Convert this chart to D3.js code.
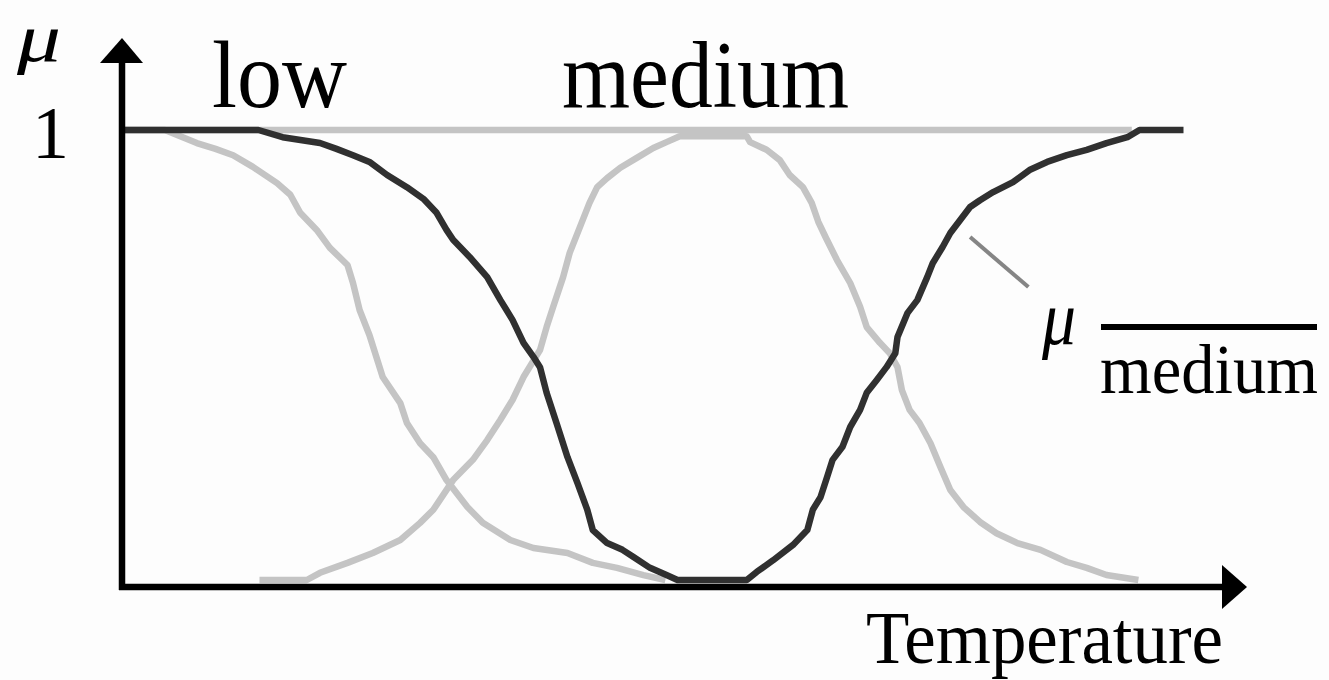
<!DOCTYPE html>
<html>
<head>
<meta charset="utf-8">
<script src="https://cdn.jsdelivr.net/npm/d3@7"></script>
<style>
  html, body { margin: 0; padding: 0; background: #fdfdfd; }
  svg { display: block; }
  text { font-family: "Liberation Serif", "Times New Roman", serif; fill: #000; }
</style>
</head>
<body>
<svg id="chart"></svg>
<script>
// membership values: [temperature, mu]
const lowPoints = [
  [0, 1], [3.9, 1], [6.8, 0.971], [8.5, 0.958], [10.1, 0.944], [11.9, 0.918],
  [14.1, 0.882], [15.3, 0.856], [16.2, 0.816], [17.7, 0.778], [18.9, 0.738],
  [20.5, 0.70], [21.0, 0.66], [21.6, 0.60], [22.5, 0.544], [23.7, 0.451],
  [25.3, 0.393], [25.9, 0.349], [27.1, 0.304], [28.3, 0.273], [29.5, 0.222],
  [31.4, 0.162], [32.8, 0.127], [35.3, 0.089], [37.4, 0.071], [40.5, 0.06],
  [42.8, 0.038], [45.0, 0.027], [47.4, 0.011], [49.4, 0]
];

const mediumPoints = [
  [12.5, 0], [16.8, 0], [18.0, 0.016], [20.5, 0.038], [22.8, 0.06], [25.3, 0.089],
  [27.1, 0.127], [28.3, 0.156], [30.1, 0.222], [31.9, 0.267], [33.2, 0.311],
  [34.4, 0.356], [35.5, 0.40], [36.5, 0.451], [38.0, 0.511], [38.6, 0.562],
  [39.2, 0.607], [40.1, 0.673], [40.7, 0.727], [42.5, 0.838], [43.2, 0.873],
  [44.1, 0.893], [45.3, 0.916], [46.8, 0.938], [48.3, 0.96], [49.5, 0.973],
  [50.7, 0.986], [56.8, 0.986], [57.1, 0.973], [58.6, 0.956], [59.8, 0.933],
  [60.7, 0.90], [61.9, 0.873], [62.7, 0.838], [63.3, 0.796], [64.0, 0.76],
  [65.0, 0.711], [66.2, 0.66], [67.1, 0.607], [67.7, 0.562], [68.9, 0.527],
  [69.8, 0.504], [70.5, 0.473], [70.9, 0.422], [71.6, 0.378], [72.5, 0.349],
  [73.5, 0.304], [74.4, 0.251], [75.3, 0.20], [76.5, 0.162], [78.0, 0.129],
  [79.5, 0.104], [81.4, 0.082], [83.5, 0.067], [85.9, 0.04], [87.7, 0.027],
  [89.5, 0.011], [92.4, 0]
];

// not medium
const notMediumPoints = [
  [0, 1], [12.4, 1], [14.6, 0.984], [18.0, 0.971], [19.5, 0.958], [21.0, 0.944],
  [22.5, 0.929], [24.1, 0.90], [25.9, 0.873], [27.4, 0.847], [28.6, 0.816],
  [29.5, 0.778], [30.1, 0.756], [31.6, 0.718], [33.2, 0.673], [34.4, 0.622],
  [35.5, 0.578], [36.5, 0.527], [37.4, 0.496], [38.0, 0.473], [38.6, 0.416],
  [39.5, 0.349], [40.5, 0.273], [41.4, 0.216], [42.3, 0.156], [42.8, 0.111],
  [44.1, 0.082], [45.5, 0.067], [46.5, 0.051], [48.0, 0.027], [49.5, 0.011],
  [50.5, 0], [56.8, 0], [57.7, 0.018], [59.2, 0.044], [61.0, 0.078],
  [62.3, 0.111], [62.8, 0.156], [63.5, 0.184], [64.1, 0.229], [64.6, 0.267],
  [65.5, 0.296], [66.2, 0.34], [67.1, 0.378], [67.7, 0.416], [68.6, 0.444],
  [69.5, 0.473], [70.3, 0.504], [70.5, 0.54], [71.4, 0.593], [72.3, 0.622],
  [73.2, 0.673], [73.7, 0.704], [74.6, 0.74], [75.3, 0.771], [76.2, 0.80],
  [77.1, 0.829], [78.0, 0.844], [79.2, 0.862], [81.0, 0.884], [82.5, 0.911],
  [84.1, 0.929], [85.9, 0.944], [87.7, 0.956], [89.5, 0.971], [91.4, 0.984],
  [92.5, 1], [96.5, 1]
];

const unityLine = [[0, 1], [91.8, 1]];
const leaderLine = [[77.1, 0.762], [82.4, 0.651]];
const yTicks = [1];

const width = 1329;
const height = 680;

const svg = d3.select('#chart')
  .attr('width', width)
  .attr('height', height);

const x = d3.scaleLinear().domain([0, 100]).range([122, 1222]);
const y = d3.scaleLinear().domain([0, 1]).range([580, 130]);

const line = d3.line()
  .x(d => x(d[0]))
  .y(d => y(d[1]));

const drawLine = (pts, color, w) => svg.append('path')
  .attr('d', line(pts))
  .attr('fill', 'none')
  .attr('stroke', color)
  .attr('stroke-width', w)
  .attr('stroke-linejoin', 'round');

// light curves under, dark one on top
drawLine(unityLine, '#c4c4c4', 6.5);
drawLine(lowPoints, '#c4c4c4', 6.5);
drawLine(mediumPoints, '#c4c4c4', 6.5);
drawLine(notMediumPoints, '#303030', 6.5);
drawLine(leaderLine, '#858585', 4);

// axes with arrow heads
const x0 = x(0);
const yAxisY = 587;
svg.append('line')
  .attr('x1', x0).attr('y1', yAxisY + 3)
  .attr('x2', x0).attr('y2', 58)
  .attr('stroke', '#000').attr('stroke-width', 6.5);
svg.append('path')
  .attr('d', `M${x0},38 L${x0 - 22},63 L${x0 + 21},63 Z`)
  .attr('fill', '#000');

svg.append('line')
  .attr('x1', x0 - 3).attr('y1', yAxisY)
  .attr('x2', 1226).attr('y2', yAxisY)
  .attr('stroke', '#000').attr('stroke-width', 6.5);
svg.append('path')
  .attr('d', `M1247,${yAxisY} L1222,${yAxisY - 22} L1222,${yAxisY + 22} Z`)
  .attr('fill', '#000');

// tick label
svg.selectAll('text.tick')
  .data(yTicks)
  .enter().append('text')
    .attr('class', 'tick')
    .attr('x', 69)
    .attr('y', d => y(d) + 28)
    .attr('text-anchor', 'end')
    .attr('font-size', 74)
    .text(d => d);

// labels
const label = (txt, px, py, size, len, italic) => svg.append('text')
  .attr('x', px)
  .attr('y', py)
  .attr('font-size', size)
  .attr('font-style', italic ? 'italic' : 'normal')
  .attr('textLength', len)
  .attr('lengthAdjust', 'spacingAndGlyphs')
  .text(txt);

label('μ', 17, 61, 68, 44, true);
label('low', 212, 107, 96, 135);
label('medium', 562, 107, 96, 287);
label('Temperature', 866, 663, 74, 357);

label('μ', 1042, 344, 76, 34, true);
svg.append('line')
  .attr('x1', 1101).attr('y1', 327)
  .attr('x2', 1317).attr('y2', 327)
  .attr('stroke', '#000').attr('stroke-width', 6);
label('medium', 1100, 393, 70, 218);
</script>
</body>
</html>
